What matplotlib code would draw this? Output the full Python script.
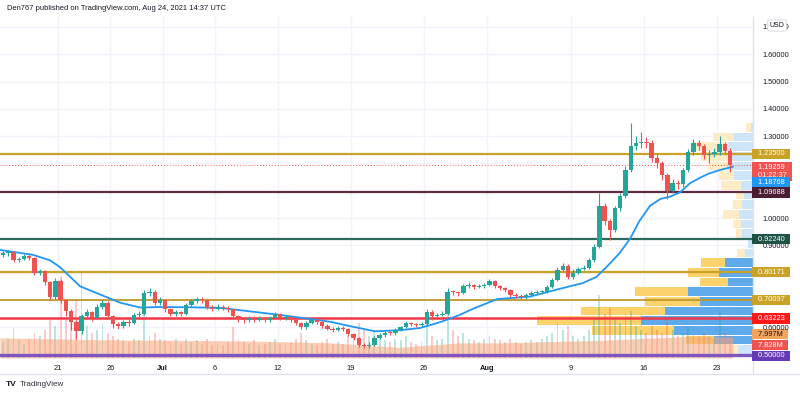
import matplotlib
matplotlib.use("Agg")
import matplotlib.pyplot as plt
from matplotlib.transforms import blended_transform_factory
from matplotlib.lines import Line2D

# ---------------- data ----------------
# 12h candles, day 0 = 21 Jun 2021
first_time = -5.25
step_days = 0.5
first_open = 0.865
closes = [0.870, 0.875, 0.845, 0.850, 0.862, 0.855, 0.800, 0.805, 0.765, 0.710,
          0.770, 0.700, 0.660, 0.620, 0.585, 0.640, 0.655, 0.635, 0.675, 0.690,
          0.640, 0.610, 0.605, 0.620, 0.615, 0.645, 0.650, 0.725, 0.730, 0.690,
          0.700, 0.665, 0.650, 0.655, 0.650, 0.680, 0.695, 0.705, 0.700, 0.672,
          0.668, 0.675, 0.670, 0.665, 0.640, 0.630, 0.625, 0.635, 0.628, 0.632,
          0.625, 0.635, 0.648, 0.635, 0.638, 0.628, 0.615, 0.600, 0.615, 0.625,
          0.620, 0.605, 0.595, 0.590, 0.598, 0.592, 0.575, 0.560, 0.535, 0.530,
          0.535, 0.560, 0.570, 0.580, 0.578, 0.590, 0.600, 0.615, 0.610, 0.608,
          0.612, 0.655, 0.640, 0.645, 0.650, 0.730, 0.728, 0.725, 0.752, 0.755,
          0.748, 0.750, 0.755, 0.770, 0.750, 0.743, 0.736, 0.718, 0.715, 0.710,
          0.718, 0.725, 0.728, 0.730, 0.748, 0.772, 0.810, 0.825, 0.785, 0.800,
          0.815, 0.818, 0.845, 0.895, 1.045, 0.990, 0.955, 1.035, 1.080, 1.175,
          1.265, 1.275, 1.280, 1.275, 1.220, 1.200, 1.157, 1.100, 1.130, 1.125,
          1.176, 1.240, 1.275, 1.265, 1.230, 1.235, 1.240, 1.270, 1.245, 1.19259]
highs = [0.878, 0.882, 0.880, 0.858, 0.868, 0.866, 0.858, 0.815, 0.810, 0.770,
         0.780, 0.775, 0.705, 0.665, 0.625, 0.650, 0.668, 0.660, 0.685, 0.700,
         0.695, 0.645, 0.618, 0.628, 0.630, 0.652, 0.660, 0.738, 0.742, 0.735,
         0.712, 0.705, 0.670, 0.662, 0.660, 0.688, 0.705, 0.712, 0.712, 0.705,
         0.680, 0.685, 0.682, 0.676, 0.668, 0.645, 0.636, 0.642, 0.640, 0.640,
         0.637, 0.642, 0.655, 0.652, 0.645, 0.642, 0.632, 0.620, 0.622, 0.632,
         0.630, 0.624, 0.610, 0.600, 0.605, 0.603, 0.596, 0.580, 0.565, 0.542,
         0.545, 0.568, 0.578, 0.588, 0.586, 0.598, 0.606, 0.622, 0.620, 0.616,
         0.620, 0.668, 0.662, 0.652, 0.658, 0.745, 0.738, 0.734, 0.760, 0.765,
         0.760, 0.758, 0.762, 0.778, 0.774, 0.755, 0.748, 0.740, 0.724, 0.720,
         0.724, 0.732, 0.735, 0.738, 0.755, 0.780, 0.820, 0.835, 0.830, 0.812,
         0.822, 0.828, 0.855, 0.905, 1.090, 1.055, 0.998, 1.045, 1.092, 1.190,
         1.348, 1.300, 1.315, 1.295, 1.285, 1.235, 1.210, 1.165, 1.142, 1.140,
         1.185, 1.252, 1.290, 1.285, 1.272, 1.250, 1.255, 1.300, 1.280, 1.255]
lows = [0.858, 0.862, 0.838, 0.838, 0.845, 0.848, 0.790, 0.790, 0.755, 0.700,
        0.705, 0.690, 0.640, 0.590, 0.555, 0.575, 0.630, 0.622, 0.630, 0.668,
        0.632, 0.598, 0.592, 0.598, 0.605, 0.610, 0.638, 0.645, 0.715, 0.682,
        0.682, 0.655, 0.640, 0.642, 0.640, 0.645, 0.675, 0.688, 0.690, 0.665,
        0.660, 0.662, 0.662, 0.655, 0.630, 0.620, 0.615, 0.618, 0.620, 0.622,
        0.618, 0.620, 0.630, 0.628, 0.628, 0.620, 0.608, 0.592, 0.595, 0.610,
        0.612, 0.598, 0.588, 0.582, 0.585, 0.585, 0.568, 0.552, 0.528, 0.522,
        0.525, 0.530, 0.555, 0.565, 0.570, 0.572, 0.585, 0.596, 0.603, 0.600,
        0.602, 0.608, 0.628, 0.632, 0.640, 0.646, 0.718, 0.716, 0.720, 0.745,
        0.740, 0.742, 0.745, 0.750, 0.744, 0.736, 0.728, 0.710, 0.708, 0.702,
        0.704, 0.712, 0.720, 0.722, 0.725, 0.742, 0.768, 0.805, 0.775, 0.778,
        0.795, 0.808, 0.812, 0.840, 0.890, 0.975, 0.920, 0.948, 1.025, 1.072,
        1.168, 1.250, 1.258, 1.255, 1.205, 1.185, 1.140, 1.070, 1.090, 1.105,
        1.115, 1.170, 1.232, 1.248, 1.215, 1.200, 1.222, 1.232, 1.235, 1.168]
volumes = [25, 30, 48, 28, 22, 30, 40, 35, 45, 60,
           50, 130, 60, 70, 90, 136, 50, 40, 45, 55,
           40, 35, 30, 28, 25, 30, 28, 70, 35, 40,
           30, 28, 25, 30, 22, 30, 25, 28, 22, 30,
           20, 22, 20, 25, 49, 30, 25, 22, 28, 20,
           22, 25, 30, 22, 20, 25, 30, 40, 28, 22,
           20, 25, 30, 22, 25, 22, 35, 40, 55, 45,
           35, 45, 30, 28, 25, 30, 28, 35, 25, 22,
           25, 60, 35, 28, 30, 70, 45, 35, 40, 30,
           28, 25, 30, 35, 30, 28, 25, 30, 25, 22,
           25, 28, 25, 30, 35, 40, 55, 45, 50, 35,
           30, 35, 45, 60, 100, 70, 80, 65, 55, 70,
           75, 50, 45, 40, 50, 45, 40, 60, 45, 35,
           40, 50, 40, 35, 40, 35, 30, 75, 40, 35]
vol_ma_days = [-5.55, 4.0, 18.4, 26.0, 32.7, 38.4, 42.3, 51.8, 61.4, 64.5]
vol_ma_vals = [32, 29, 27, 24, 17, 24, 24, 28, 35, 33]

ma_days = [-5.55, -2.39, -0.76, 0.19, 1.15, 2.10, 4.02, 5.93, 7.84, 9.75,
           12.62, 15.49, 18.36, 21.22, 26.0, 28.4, 30.3, 32.7, 34.6, 36.5,
           38.4, 39.7, 42.0, 45.1, 47.7, 50.2, 51.5, 52.8, 53.7, 54.7,
           55.6, 56.6, 57.6, 58.5, 59.5, 60.4, 61.4, 62.3, 63.3, 64.5]
ma_vals = [0.883, 0.865, 0.845, 0.820, 0.785, 0.750, 0.720, 0.690, 0.672, 0.674,
           0.673, 0.671, 0.658, 0.645, 0.620, 0.600, 0.585, 0.589, 0.597, 0.618,
           0.645, 0.668, 0.703, 0.712, 0.738, 0.762, 0.785, 0.835, 0.872, 0.925,
           0.990, 1.045, 1.070, 1.078, 1.095, 1.127, 1.148, 1.164, 1.176, 1.18768]

# volume profile (bottom row first)
vp_bottom = 0.50
vp_row = 0.03542
vp_up = [15, 39, 79, 112, 88, 53, 65, 25, 34, 28, 8, 5, 11, 12, 14, 11, 9, 12, 19, 25, 22, 25, 19, 2]
vp_down = [7, 28, 82, 104, 84, 55, 53, 28, 31, 24, 8, 0, 6, 8, 16, 9, 8, 20, 15, 20, 30, 34, 21, 5]
value_area = (1, 9)

levels = [1.2350, 1.09688, 0.9224, 0.80171, 0.70097, 0.63223, 0.50]
level_colors = ['#c9a227', '#5e2a44', '#2b6a5c', '#c9a227', '#bf9a2a', '#f23645', '#7e57c2']
level_widths = [1.6, 1.6, 1.6, 1.6, 1.3, 1.8, 2.4]
last_price = 1.19259

tick_days = [0, 5, 10, 15, 21, 28, 35, 41, 49, 56, 63]
tick_labels = ['21', '26', 'Jul', '6', '12', '19', '26', 'Aug', '9', '16', '23']
grid_prices = [0.5, 0.6, 0.7, 0.8, 0.9, 1.0, 1.1, 1.2, 1.3, 1.4, 1.5, 1.6, 1.7]
price_ticks = [0.6, 0.9, 1.0, 1.3, 1.4, 1.5, 1.6, 1.7]

# ---------------- figure ----------------
FONT = ['Liberation Sans', 'DejaVu Sans']
plt.rcParams['font.family'] = FONT
fig = plt.figure(figsize=(8.0, 3.95), dpi=100)
fig.patch.set_facecolor('white')
pos = [0, 37 / 395, 753 / 800, 341 / 395]
xlim = (-5.545, 66.44)
ylim = (0.4872, 1.7363)

ax_bg = fig.add_axes(pos, zorder=0)
ax_vp = fig.add_axes(pos, zorder=1)
ax_vol = fig.add_axes(pos, zorder=2)
ax = fig.add_axes(pos, zorder=3)
for a in (ax_bg, ax_vp, ax_vol, ax):
    for s in a.spines.values():
        s.set_visible(False)
for a in (ax_vp, ax_vol, ax):
    a.patch.set_alpha(0)
for a in (ax_bg, ax_vp, ax_vol):
    a.set_xticks([]); a.set_yticks([])

grid_c = '#f0f3fa'
ax_bg.set_xlim(*xlim); ax_bg.set_ylim(*ylim)
for d in tick_days:
    ax_bg.axvline(d, color=grid_c, lw=1)
for p in grid_prices:
    ax_bg.axhline(p, color=grid_c, lw=1)

# volume profile
tot = [u + d for u, d in zip(vp_up, vp_down)]
ax_vp.set_ylim(*ylim)
ax_vp.set_xlim(max(tot) / 0.287, 0)
for i, (u, d) in enumerate(zip(vp_up, vp_down)):
    inside = value_area[0] <= i <= value_area[1]
    cu = '#5eaaea' if inside else '#cde5f8'
    cd = '#fbd26b' if inside else '#fdecc6'
    yb = vp_bottom + i * vp_row + vp_row * 0.05
    h = vp_row * 0.9
    ax_vp.barh(yb, u, height=h, left=0, color=cu, align='edge', lw=0)
    ax_vp.barh(yb, d, height=h, left=u, color=cd, align='edge', lw=0)

# volume bars
n = len(closes)
times = [first_time + step_days * k for k in range(n)]
opens = [first_open] + closes[:-1]
ax_vol.set_xlim(*xlim)
ax_vol.set_ylim(0, 541)
vcols = ['#26a69a' if c >= o else '#ef5350' for o, c in zip(opens, closes)]
ax_vol.bar(times, volumes, width=0.18, color=vcols, alpha=0.3, lw=0)
ax_vol.fill_between(vol_ma_days, vol_ma_vals, 0, color='#f9a679', alpha=0.55, lw=0)

# price
ax.set_xlim(*xlim); ax.set_ylim(*ylim)
for lv, c, w in zip(levels, level_colors, level_widths):
    ax.axhline(lv, color=c, lw=w, zorder=2)
ax.axhline(last_price, color='#ef5350', lw=0.7, ls=(0, (1, 2)), zorder=2)
ax.plot(ma_days, ma_vals, color='#2196f3', lw=1.3, zorder=3)
ccols = ['#26a69a' if c >= o else '#ef5350' for o, c in zip(opens, closes)]
ax.vlines(times, lows, highs, colors=ccols, lw=0.8, zorder=4)
bodies = [max(abs(c - o), 0.003) for o, c in zip(opens, closes)]
bottoms = [min(o, c) for o, c in zip(opens, closes)]
ax.bar(times, bodies, bottom=bottoms, width=0.42, color=ccols, lw=0, zorder=5)

ax.set_xticks(tick_days)
ax.set_xticklabels(tick_labels)
for lab in ax.get_xticklabels():
    if lab.get_text() in ('Jul', 'Aug'):
        lab.set_fontweight('bold')
ax.tick_params(axis='x', length=0, pad=5, labelsize=5.3, labelcolor='#131722')
ax.yaxis.tick_right()
ax.set_yticks(price_ticks)
ax.set_yticklabels(['%.5f' % p for p in price_ticks])
ax.tick_params(axis='y', length=0, pad=7, labelsize=5.3, labelcolor='#131722')

# right-axis colored labels
box = dict(boxstyle='square,pad=0.22', ec='none')
bt = blended_transform_factory(ax.transAxes, ax.transData)
price_labels = [
    (1.2350, '1.23500', '#c9a227', 'white', 0),
    (1.19259, '1.19259\n01:22:37', '#ef5350', 'white', -4.3),
    (1.18768, '1.18768', '#2196f3', 'white', -11.4),
    (1.09688, '1.09688', '#4a1d33', 'white', -0.6),
    (0.9224, '0.92240', '#1e5245', 'white', 0),
    (0.80171, '0.80171', '#c9a227', 'white', 0),
    (0.70097, '0.70097', '#c9a227', 'white', 0),
    (0.63223, '0.63223', '#ff1a1a', 'white', 0),
    (0.50, '0.50000', '#673ab7', 'white', -1.0),
]
for p, t, bg, fg, dy in price_labels:
    txt = '\n'.join('  ' + s + '  ' for s in t.split('\n'))
    ax.annotate(txt, xy=(1.0, p), xycoords=bt, xytext=(0.8, dy), textcoords='offset points',
                fontsize=5.3, color=fg, va='center', ha='left', linespacing=1.3,
                annotation_clip=False, zorder=10, bbox=dict(box, fc=bg))
btv = blended_transform_factory(ax_vol.transAxes, ax_vol.transData)
ax_vol.annotate('  7.997M  ', xy=(1.0, vol_ma_vals[-1]), xycoords=btv, xytext=(0.8, 2.3),
                textcoords='offset points', fontsize=5.3, color='#131722', va='center',
                annotation_clip=False, zorder=10, bbox=dict(box, fc='#f7a35c'))
ax_vol.annotate('  7.828M  ', xy=(1.0, volumes[-1]), xycoords=btv, xytext=(0.8, -6.6),
                textcoords='offset points', fontsize=5.3, color='white', va='center',
                annotation_clip=False, zorder=10, bbox=dict(box, fc='#ef5350'))

# frame lines
fig.add_artist(Line2D([753 / 800, 753 / 800], [1 - 17 / 395, 1 - 374 / 395], color='#e0e3eb', lw=1))
fig.add_artist(Line2D([0, 1], [1 - 374 / 395, 1 - 374 / 395], color='#e0e3eb', lw=1))

fig.text(777 / 800, 1 - 25.5 / 395, 'USD', fontsize=5, color='#131722', ha='center', va='center',
         zorder=20, bbox=dict(boxstyle='round,pad=0.3', fc='white', ec='#d1d4dc', lw=0.6))
fig.text(7 / 800, 1 - 8 / 395, 'Den767 published on TradingView.com, Aug 24, 2021 14:37 UTC',
         fontsize=5.4, color='#131722', ha='left', va='center')
fig.text(6 / 800, 1 - 384 / 395, 'TV', fontsize=6, fontweight='bold', color='#131722',
         ha='left', va='center')
fig.text(20 / 800, 1 - 384 / 395, 'TradingView', fontsize=5.8, color='#2a2e39',
         ha='left', va='center')

fig.savefig('out.png', dpi=100)
